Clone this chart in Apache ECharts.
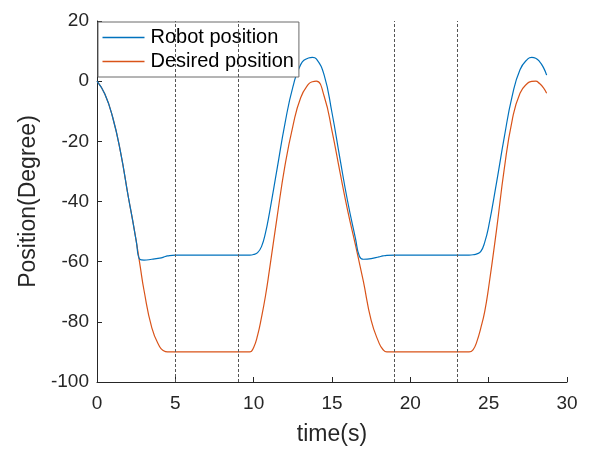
<!DOCTYPE html>
<html>
<head>
<meta charset="utf-8">
<script src="https://cdn.jsdelivr.net/npm/echarts@6/dist/echarts.min.js"></script>
<style>
  html, body { margin: 0; padding: 0; background: #fff; }
  #chart { width: 589px; height: 450px; }
</style>
</head>
<body>
<div id="chart"></div>
<script>
// sample times (s)
const times = [0, 0.5, 1, 1.5, 2, 2.25, 2.5, 2.75, 3, 3.5, 4, 4.25, 4.5, 5, 6, 7, 8, 9, 9.5, 9.75,
  10, 10.25, 10.5, 10.75, 11, 11.5, 12, 12.5, 13, 13.5, 13.75, 14, 14.5, 15, 15.5, 16, 16.5, 16.75,
  17, 17.5, 18, 18.25, 18.5, 19, 20, 21, 22, 23, 23.5, 23.75, 24, 24.25, 24.5, 24.75, 25, 25.5,
  26, 26.5, 27, 27.5, 27.75, 28, 28.25, 28.5, 28.7]

// robot position (deg)
const robotPos = [0, -4.3, -12, -23.5, -38.5, -45.5, -53, -59.3, -59.5, -59.2, -58.8, -58.5, -58.1, -57.8, -57.8, -57.8, -57.8, -57.8, -57.8, -57.8,
  -57.6, -57, -55, -50.5, -44, -29, -14, -2, 5.5, 7.7, 7.9, 7.4, 2, -10.5, -25.5, -40, -52.3, -58.2,
  -59.2, -59, -58.4, -58.1, -57.9, -57.8, -57.8, -57.8, -57.8, -57.8, -57.8, -57.8, -57.7, -57.4, -56.6, -53.5, -48.3, -33.8,
  -18.5, -5, 3.8, 7.4, 7.9, 7.6, 6.5, 4.5, 2]

// desired position (deg)
const desiredPos = [0, -4.3, -12, -23.5, -38.5, -45.5, -53, -61.3, -69.5, -82, -88.3, -89.6, -90, -90, -90, -90, -90, -90, -90, -90,
  -88.5, -84.5, -78.5, -71.5, -63, -45, -28, -15, -5.5, -1, -0.2, 0, -5, -16.5, -30, -43, -54.5, -60.5,
  -66.5, -79.5, -87, -89.2, -90, -90, -90, -90, -90, -90, -90, -90, -89.3, -86.5, -82, -76.5, -68.5, -49.5,
  -29, -13, -4, -0.6, -0.1, 0, -0.8, -2.2, -4]

// dashed marker times
const markTimes = [5, 9, 19, 23]

const chart = echarts.init(document.getElementById('chart'))
const font = 'Liberation Sans, Arial, sans-serif'
const axisColor = '#262626'

const option = {
  animation: false,
  grid: { left: 97, right: 22, top: 21, bottom: 68, outerBoundsMode: 'none' },
  legend: {
    orient: 'vertical',
    left: 98,
    top: 22,
    padding: [5.5, 5, 5.5, 4.5],
    itemGap: 4,
    itemWidth: 42,
    itemHeight: 1.5,
    icon: 'rect',
    backgroundColor: '#fff',
    borderColor: '#6a6a6a',
    borderWidth: 1,
    borderRadius: 0,
    textStyle: { fontFamily: font, fontSize: 20, color: '#000', padding: [0, 0, 0, 1] },
    data: [
      { name: 'Robot position', itemStyle: { color: '#0072BD' } },
      { name: 'Desired position', itemStyle: { color: '#D95319' } }
    ]
  },
  xAxis: {
    type: 'value',
    min: 0, max: 30, interval: 5,
    name: 'time(s)',
    nameLocation: 'middle',
    nameGap: 41,
    nameTextStyle: { fontFamily: font, fontSize: 23, color: axisColor },
    axisLine: { onZero: false, lineStyle: { color: axisColor, width: 1 } },
    axisTick: { inside: true, length: 5, lineStyle: { color: axisColor } },
    axisLabel: { fontFamily: font, fontSize: 19, color: axisColor, margin: 12 },
    splitLine: { show: false }
  },
  yAxis: {
    type: 'value',
    min: -100, max: 20, interval: 20,
    name: 'Position(Degree)',
    nameLocation: 'middle',
    nameGap: 54,
    nameTextStyle: { fontFamily: font, fontSize: 23, color: axisColor },
    axisLine: { show: true, onZero: false, lineStyle: { color: axisColor, width: 1 } },
    axisTick: { show: true, inside: true, length: 5, lineStyle: { color: axisColor } },
    axisLabel: { fontFamily: font, fontSize: 19, color: axisColor, margin: 8 },
    splitLine: { show: false }
  },
  series: [
    {
      name: 'Robot position',
      type: 'line',
      symbol: 'none',
      smooth: 0.5,
      z: 3,
      lineStyle: { color: '#0072BD', width: 1.2 },
      itemStyle: { color: '#0072BD' },
      data: times.map((t, i) => [t, robotPos[i]])
    },
    {
      name: 'Desired position',
      type: 'line',
      symbol: 'none',
      smooth: 0.5,
      z: 2,
      lineStyle: { color: '#D95319', width: 1.2 },
      itemStyle: { color: '#D95319' },
      data: times.map((t, i) => [t, desiredPos[i]]),
      markLine: {
        silent: true,
        symbol: 'none',
        label: { show: false },
        lineStyle: { color: '#555', type: [3, 2], width: 1 },
        data: markTimes.map(t => ({ xAxis: t }))
      }
    }
  ]
}

chart.setOption(option)
</script>
</body>
</html>
